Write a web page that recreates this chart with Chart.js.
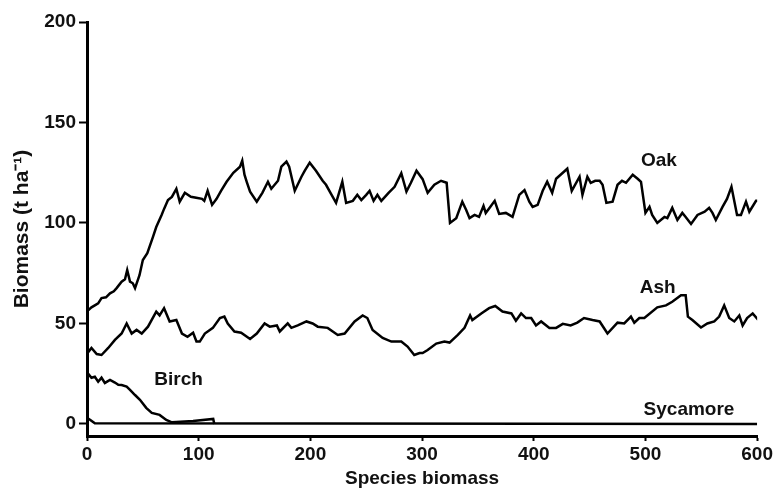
<!DOCTYPE html>
<html>
<head>
<meta charset="utf-8">
<script src="https://cdn.jsdelivr.net/npm/chart.js@4/dist/chart.umd.min.js"></script>
<style>
  html, body { margin: 0; padding: 0; background: #fff; }
  #wrap { width: 775px; height: 489px; }
</style>
</head>
<body>
<div id="wrap"><canvas id="myChart" width="775" height="489"></canvas></div>
<script>
'use strict';
// values
const oakX = [0, 4, 7, 10, 13, 17, 20.6, 24, 26.5, 31, 34, 36, 38.5, 41, 43, 47, 50, 54, 59, 62, 66.8, 69, 72.5, 76, 80, 83, 87.6, 93, 99, 103, 105, 108, 112, 116, 120, 125, 131, 137, 139, 141, 143, 146, 152, 157, 162, 165, 171, 174, 178.6, 181, 186, 192, 195, 199.4, 205, 211, 214, 218, 223, 228.6, 232, 238, 242, 245.6, 250, 253, 256.6, 260, 263.5, 270, 275.4, 281.4, 286, 290, 295, 300.5, 305, 311, 317, 322, 325, 330.6, 336, 339.5, 342.5, 347, 351, 355, 357, 361, 365, 369, 375, 381, 387, 391.7, 396, 399, 403.5, 408, 412, 416.5, 420, 426, 430, 434, 441, 443.6, 448, 451, 455, 459, 461.6, 465, 470.6, 475, 479, 482.6, 488.6, 493, 496, 500, 503.6, 506, 510.6, 517, 519.6, 524, 528.6, 533, 536, 540.8, 546.6, 553, 557, 560, 563, 569, 573, 577, 582, 585.5, 590, 593, 599, 602];
const oakY = [56, 58, 59, 60, 62.6, 63, 65, 66, 67.6, 70.8, 72, 76.6, 70.8, 70, 67.6, 74, 81.6, 85, 93, 98, 104, 107, 111.4, 113, 117, 110.6, 115, 113, 112.4, 112, 111, 116, 109, 112, 116, 120.5, 125, 128, 131, 124, 120.5, 115.6, 110.6, 115, 120.5, 117, 121, 128, 130.5, 128, 116, 123, 126, 130, 126, 121, 119, 115, 110, 120.5, 110, 111, 114, 111.4, 114, 116, 111, 114, 111, 115, 118, 124.8, 115.6, 120, 126, 121.8, 115, 119, 121, 120, 100, 102.4, 110.6, 106.5, 102.4, 104, 103, 108.5, 105, 108, 111, 104.5, 105, 103, 114, 116.4, 110.6, 108, 109, 116, 120.5, 115, 122, 125, 127, 116, 123, 114, 123, 120, 121, 121, 119, 110, 110.6, 119, 121, 120, 124, 122, 120.5, 105, 108, 104, 100, 103, 102.4, 107.5, 101.5, 105, 103, 99.5, 104, 105.6, 107.5, 105, 101.5, 108, 112, 118, 104, 104, 110.6, 105.6, 111, 111];

const ashX = [0, 4, 8.7, 13, 19, 25, 31, 35.5, 40, 44.4, 49, 54.6, 62, 65, 69, 74, 80, 85, 90, 95, 98, 101, 105.5, 112.7, 119, 123, 126, 132, 138, 146, 152, 159, 163.6, 170, 172.6, 179.7, 183, 188.7, 196.5, 202, 206.6, 215.5, 224.5, 230.7, 239.6, 246.8, 251, 255.7, 264.7, 272.5, 281.4, 287, 293, 297.8, 300.5, 305, 312.7, 320, 324.6, 332, 338, 343, 345, 353, 360, 365.5, 372, 380, 384, 388.7, 393, 397.7, 402, 406.6, 414, 420, 426, 433, 439, 445, 452.6, 459, 466, 475, 481, 487, 490, 494.5, 499, 510.6, 518.4, 524, 531.8, 536, 538, 542, 549.7, 555.4, 561.6, 566, 570.5, 575, 579.5, 584, 587, 591, 596, 601];
const ashY = [35, 37.8, 34.8, 34.3, 37.8, 41.8, 45, 50, 45, 46.8, 45, 48.4, 55.9, 54, 57.6, 51, 51.7, 45, 43.4, 45.4, 41, 41, 45, 47.8, 52.7, 53.4, 50, 46, 45.4, 42.3, 45, 50, 48.4, 49, 46, 50, 47.8, 49, 51, 50, 48.4, 47.8, 44.3, 45, 51, 54, 52.7, 46.8, 42.8, 41, 41, 38.5, 34.3, 35.3, 35.3, 36.8, 40, 41, 40.5, 44.3, 47.8, 54, 51.7, 55, 57.6, 58.7, 55.9, 55, 51.4, 55, 52.7, 52.7, 49, 51, 47.8, 47.8, 49.8, 49, 50.4, 52.7, 51.7, 51, 45, 50.4, 50, 53.4, 50.4, 52.7, 52.7, 58, 59, 60.8, 64, 64, 53.4, 51.7, 48, 50, 51, 53.4, 59, 52.7, 51, 54, 49, 52.7, 55, 51.7];

const birchX = [0, 1, 4, 7, 10, 13, 16, 20.6, 25, 28, 31, 35.5, 38.5, 43, 47.4, 53, 58, 65, 71, 76, 95, 113, 114];
const birchY = [22, 25, 23, 23.5, 21, 23, 20.4, 21.9, 20.6, 19.5, 19.4, 18.6, 17, 14.4, 12, 8, 5.5, 4.5, 2, 0.8, 1.5, 2.5, 0];

const sycamoreX = [0, 3, 7, 600];
const sycamoreY = [3, 2, 0.3, 0];

const xTicks = [0, 100, 200, 300, 400, 500, 600];
const yTicks = [0, 50, 100, 150, 200];

const labelNames = ['Oak', 'Ash', 'Birch', 'Sycamore'];
const labelX = [512, 511, 82, 539];
const labelY = [131, 68, 22, 7];

const fontFamily = '"Liberation Sans", Arial, sans-serif';

function pts(xs, ys) {
  let out = [];
  for (let i = 0; i < xs.length; i++) { out.push({x: xs[i], y: ys[i]}); }
  return out;
}

const seriesLabels = {
  id: 'seriesLabels',
  afterDatasetsDraw(chart) {
    const ctx = chart.ctx;
    const xs = chart.scales.x;
    const ys = chart.scales.y;
    ctx.save();
    ctx.font = 'bold 19px ' + fontFamily;
    ctx.fillStyle = '#111';
    ctx.textAlign = 'center';
    ctx.textBaseline = 'middle';
    for (let i = 0; i < labelNames.length; i++) {
      ctx.fillText(labelNames[i], xs.getPixelForValue(labelX[i]), ys.getPixelForValue(labelY[i]));
    }
    ctx.restore();
  }
};

const lineStyle = {borderColor: '#000', borderWidth: 2.5, pointRadius: 0, tension: 0, fill: false};

let ctx = document.getElementById('myChart').getContext('2d');
let myChart = new Chart(ctx, {
  type: 'line',
  data: {
    datasets: [
      Object.assign({label: 'Oak', data: pts(oakX, oakY)}, lineStyle),
      Object.assign({label: 'Ash', data: pts(ashX, ashY)}, lineStyle),
      Object.assign({label: 'Birch', data: pts(birchX, birchY)}, lineStyle),
      Object.assign({label: 'Sycamore', data: pts(sycamoreX, sycamoreY)}, lineStyle)
    ]
  },
  options: {
    responsive: false,
    animation: false,
    layout: {padding: {top: 22, right: 17, left: 0, bottom: 0}},
    plugins: {legend: {display: false}, tooltip: {enabled: false}},
    scales: {
      x: {
        type: 'linear',
        min: 0,
        max: 600,
        afterBuildTicks: (s) => { s.ticks = xTicks.map(v => ({value: v})); },
        afterFit: (s) => { s.height = 53; },
        border: {display: true, color: '#000', width: 3},
        grid: {drawOnChartArea: false, drawTicks: true, tickLength: 5, tickWidth: 2, tickColor: '#000'},
        ticks: {color: '#111', padding: 2, maxRotation: 0, font: {family: fontFamily, size: 19, weight: 'bold'}},
        title: {display: true, text: 'Species biomass', color: '#111', padding: {top: 0, bottom: 0},
          font: {family: fontFamily, size: 19, weight: 'bold', lineHeight: 1.1}}
      },
      y: {
        type: 'linear',
        min: -6,
        max: 200,
        afterBuildTicks: (s) => { s.ticks = yTicks.map(v => ({value: v})); },
        afterFit: (s) => { s.width = 87; },
        border: {display: true, color: '#000', width: 3},
        grid: {drawOnChartArea: false, drawTicks: true, tickLength: 8, tickWidth: 2, tickColor: '#000'},
        ticks: {color: '#111', padding: 3, font: {family: fontFamily, size: 19, weight: 'bold'}},
        title: {display: true, text: 'Biomass (t ha⁻¹)', color: '#111', padding: {top: 10, bottom: 0},
          font: {family: fontFamily, size: 21, weight: 'bold'}}
      }
    }
  },
  plugins: [seriesLabels]
});
</script>
</body>
</html>
